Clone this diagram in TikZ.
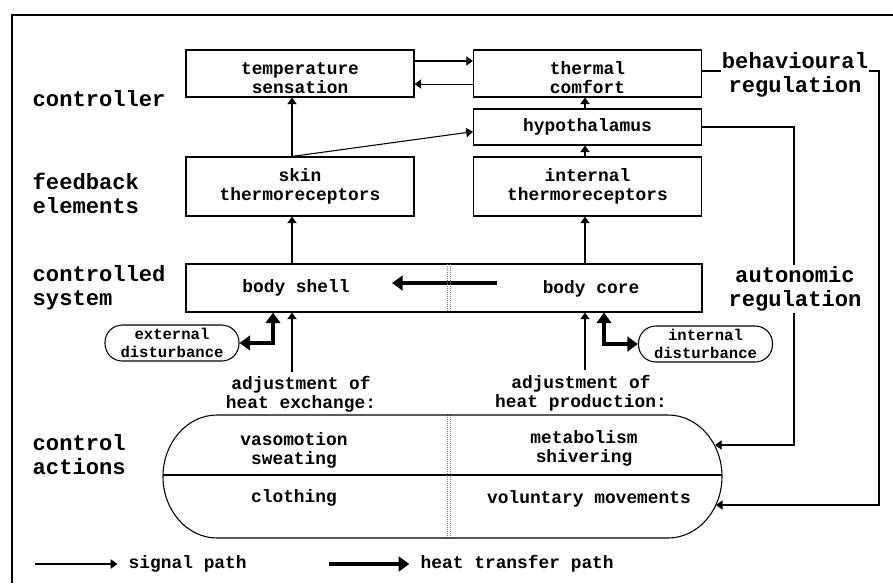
\documentclass[tikz,border=0pt]{standalone}
\usepackage{fontspec}
\setmonofont{Liberation Mono}
\usetikzlibrary{arrows.meta,positioning}

\newcommand\smalltxt{\ttfamily\bfseries\fontsize{13.4}{14.25}\selectfont}
\newcommand\disttxt{\ttfamily\bfseries\fontsize{11.7}{13}\selectfont}
\newcommand\bigtxt{\ttfamily\bfseries\fontsize{16.6}{18}\selectfont}

\tikzset{
  st/.tip={Triangle[length=5pt,width=7pt]},
  ht/.tip={Triangle[length=8pt,width=11pt]},
  sig/.style={line width=0.8pt,-st},
  heat/.style={line width=3pt,-ht},
  heatboth/.style={line width=3pt,ht-ht},
  blk/.style={draw,line width=0.85pt,minimum width=171pt,align=center,font=\smalltxt},
  dist/.style={draw,line width=0.8pt,rounded corners=13pt,minimum width=100.5pt,
    minimum height=27pt,align=center,font=\disttxt,inner sep=1pt},
  lbl/.style={anchor=west,align=left,font=\bigtxt},
  reg/.style={align=center,font=\bigtxt,fill=white,inner sep=1pt},
  txt/.style={align=center,font=\smalltxt},
  divider/.style={gray,line width=0.6pt,dash pattern=on 0.75pt off 0.75pt},
}

\begin{document}
\begin{tikzpicture}[x=0.75pt,y=-0.75pt]
\useasboundingbox (0,0) rectangle (893,583);
\draw[line width=1.1pt] (12,583) -- (12,15) -- (893,15);

% level labels
\node[lbl] (lctrl) at (28,99) {controller};
\node[lbl] (lfeed) at (28,193) {feedback\\elements};
\node[lbl] (lsys) at (28,287.5) {controlled\\system};
\node[lbl] (lact) at (28,454.5) {control\\actions};

% blocks
\node[blk,minimum height=35.25pt,inner ysep=0pt] (ts) at (300,73.5) {\rule{0pt}{16pt}temperature\\sensation};
\node[blk,minimum height=35.25pt,inner ysep=0pt] (tc) at (587.5,73.5) {\rule{0pt}{16pt}thermal\\comfort};
\node[blk,minimum height=27pt] (hyp) at (587.5,127) {hypothalamus};
\node[blk,minimum height=44.25pt] (skin) at (300,186.5) {skin\\thermoreceptors};
\node[blk,minimum height=44.25pt] (int) at (587.5,186.5) {internal\\thermoreceptors};
\node[draw,line width=0.85pt,minimum width=387pt,minimum height=36pt] (body) at (444,288) {};
\node[txt] (shell) at (296,288) {body shell};
\node[txt] (core) at (591,289) {body core};

% signal paths
\coordinate (lx) at (292,0);
\coordinate (rx) at (585,0);
\draw[sig] (skin.north -| lx) -- (ts.south -| lx);
\draw[sig] (skin.north -| lx) -- ([yshift=-3.5pt]hyp.west);
\draw[sig] (int.north -| rx) -- (hyp.south -| rx);
\draw[sig] (hyp.north -| rx) -- (tc.south -| rx);
\draw[sig] ([yshift=9.4pt]ts.east) -- ([yshift=9.4pt]tc.west);
\draw[sig] ([yshift=-7.9pt]tc.west) -- ([yshift=-7.9pt]ts.east);
\draw[sig] (body.north -| lx) -- (skin.south -| lx);
\draw[sig] (body.north -| rx) -- (int.south -| rx);

% heat inside the body
\coordinate (coreout) at (497,283);
\coordinate (shellin) at (392,283);
\draw[heat] (coreout) -- (shellin);
\foreach \dx in {447.5,450} {
  \draw[divider] (\dx,264) -- (\dx,312);
  \draw[divider] (\dx,415) -- (\dx,538);
}

% disturbances
\coordinate (ex) at (273,0);
\coordinate (ix) at (604,0);
\node[dist] (ext) at (172,343) {external\\disturbance};
\node[dist] (intd) at (705.5,344) {internal\\disturbance};
\draw[heatboth] (ext.east) -| (body.south -| ex);
\draw[heatboth] (body.south -| ix) |- (intd.west);

% adjustments
\node[txt] (adjx) at (301,394.5) {adjustment of\\heat exchange:};
\node[txt] (adjp) at (581,393) {adjustment of\\heat production:};
\draw[sig] (adjx.north -| lx) -- (body.south -| lx);
\draw[sig] (adjp.north -| rx) -- (body.south -| rx);

% control actions
\draw[line width=0.8pt] (217,415) -- (668,415)
  arc[start angle=-90,end angle=90,x radius=54,y radius=61.5] -- (217,538)
  arc[start angle=90,end angle=270,x radius=54,y radius=61.5] -- cycle;
\draw[line width=0.8pt] (163,475) -- (722,475);
\node[txt] (vaso) at (294,450.5) {vasomotion\\sweating};
\node[txt] (cloth) at (294,498) {clothing};
\node[txt] (meta) at (584,448.5) {metabolism\\shivering};
\node[txt] (volu) at (589,499) {voluntary movements};

% regulation loops
\coordinate (autcorner) at (794,445);
\coordinate (autin) at (715,445);
\coordinate (behcorner) at (879,505);
\coordinate (behin) at (716,505);
\draw[sig] (hyp.east) -| (autcorner) -- (autin);
\draw[sig] ([yshift=1.9pt]tc.east) -| (behcorner) -- (behin);
\node[reg] (beh) at (795,74.5) {behavioural\\regulation};
\node[reg] (aut) at (795,289) {autonomic\\regulation};

% legend
\node[txt,anchor=west] (sigtxt) at (124,564) {signal path};
\node[txt,anchor=west] (heattxt) at (416,564) {heat transfer path};
\coordinate (sigstart) at (35,564);
\coordinate (heatstart) at (329,564);
\draw[sig] (sigstart) -- ([xshift=-5pt]sigtxt.west);
\draw[heat] (heatstart) -- ([xshift=-5pt]heattxt.west);
\end{tikzpicture}
\end{document}
